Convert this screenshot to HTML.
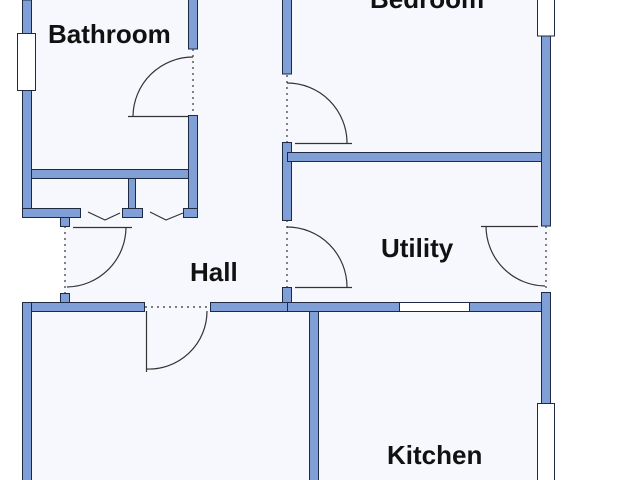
<!DOCTYPE html>
<html><head><style>
html,body{margin:0;padding:0;background:#fff;}
svg{display:block}
text{font-family:"Liberation Sans",Arial,sans-serif;font-weight:bold;font-size:26px;fill:#111}
</style></head><body>
<svg width="640" height="480" viewBox="0 0 640 480" xmlns="http://www.w3.org/2000/svg">
<rect x="22" y="0" width="528" height="480" fill="#f7f8fd"/>
<rect x="0" y="217" width="64" height="85" fill="#fff"/>
<g fill="#809fd6" stroke="#1e2a44" stroke-width="1">
<rect x="22.5" y="0" width="9" height="216"/>
<rect x="188.5" y="-2" width="9" height="51"/>
<rect x="188.5" y="115.5" width="9" height="101"/>
<rect x="31.5" y="169.5" width="157" height="9"/>
<rect x="128.5" y="178.5" width="7" height="30"/>
<rect x="22.5" y="208.5" width="58" height="9"/>
<rect x="122.5" y="208.5" width="20" height="9"/>
<rect x="183.5" y="208.5" width="14" height="9"/>
<rect x="60.5" y="217.5" width="9" height="9"/>
<rect x="60.5" y="293.5" width="9" height="9"/>
<rect x="22.5" y="302.5" width="122" height="9"/>
<rect x="22.5" y="302.5" width="9" height="180"/>
<rect x="210.5" y="302.5" width="78" height="9"/>
<rect x="282.5" y="-2" width="9" height="76"/>
<rect x="282.5" y="142.5" width="9" height="78"/>
<rect x="282.5" y="287.5" width="9" height="15"/>
<rect x="287.5" y="152.5" width="258" height="9"/>
<rect x="287.5" y="302.5" width="258" height="9"/>
<rect x="309.5" y="311.5" width="9" height="172"/>
<rect x="541.5" y="36" width="9" height="190"/>
<rect x="541.5" y="292.5" width="9" height="111"/>
</g>
<g fill="#fff" stroke="#1e2a44" stroke-width="1">
<rect x="17.5" y="33.5" width="18" height="57"/>
<rect x="537.5" y="-2" width="17" height="38"/>
<rect x="537.5" y="403.5" width="17" height="80"/>
<rect x="399.5" y="302.5" width="70" height="9"/>
</g>
<g fill="none" stroke="#333" stroke-width="1.2">
<path d="M128 116.5H188"/><path d="M133 116 A60 60 0 0 1 193 57"/>
<path d="M295 143.5H352"/><path d="M287 83 A60 60 0 0 1 347 143"/>
<path d="M295 287.5H352"/><path d="M287 227 A60 60 0 0 1 347 287"/>
<path d="M481 226.5H538"/><path d="M486 226 A60 60 0 0 0 545 286"/>
<path d="M73 227.5H132"/><path d="M126 227 A60 60 0 0 1 67 287"/>
<path d="M146.5 311V372"/><path d="M146 369 A58 58 0 0 0 207 311"/>
<path d="M88 212L105 220L120 213"/><path d="M150 212L166 220L183 213"/>
</g>
<g fill="none" stroke="#333" stroke-width="1.2" stroke-dasharray="2 4">
<path d="M193 49V115"/><path d="M287 75V142"/><path d="M287 220V287"/>
<path d="M546 226V291"/><path d="M65 226V293"/><path d="M145 307H210"/>
</g>
<text x="48" y="43">Bathroom</text>
<text x="370" y="8">Bedroom</text>
<text x="190" y="281">Hall</text>
<text x="381" y="257">Utility</text>
<text x="387" y="464">Kitchen</text>
</svg>
</body></html>
